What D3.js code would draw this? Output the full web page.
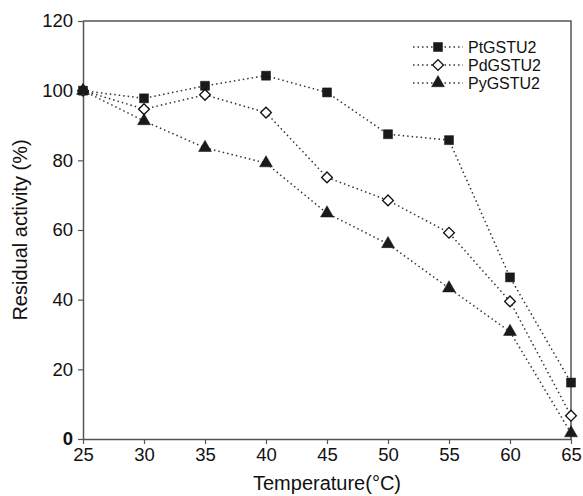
<!DOCTYPE html>
<html>
<head>
<meta charset="utf-8">
<script src="https://cdn.jsdelivr.net/npm/d3@7"></script>
<style>
  body { margin: 0; background: #fff; }
  text { font-family: "Liberation Sans", Arial, sans-serif; fill: #111; }
</style>
</head>
<body>
<div id="chart"></div>
<script>
// data
const temperatures = [25, 30, 35, 40, 45, 50, 55, 60, 65];
const ptGSTU2 = [100, 97.8, 101.4, 104.3, 99.5, 87.5, 85.8, 46.4, 16.2];
const pdGSTU2 = [100, 94.7, 98.8, 93.7, 75.1, 68.5, 59.2, 39.5, 6.7];
const pyGSTU2 = [100, 91.3, 83.6, 79.2, 64.8, 56.0, 43.3, 30.8, 1.7];
const seriesNames = ["PtGSTU2", "PdGSTU2", "PyGSTU2"];
const xTicks = [25, 30, 35, 40, 45, 50, 55, 60, 65];
const yTicks = [0, 20, 40, 60, 80, 100, 120];

const W = 583, H = 496;
const margin = { top: 21, right: 12, bottom: 57, left: 83 };
const width = W - margin.left - margin.right,
  height = H - margin.top - margin.bottom;

const x = d3.scaleLinear().domain([25, 65]).range([0, width]);
const y = d3.scaleLinear().domain([0, 120]).range([height, 0]);

const svg = d3.select("#chart").append("svg")
  .attr("width", W).attr("height", H);

const g = svg.append("g")
  .attr("transform", "translate(" + margin.left + "," + margin.top + ")");

const axisColor = "#555";

// frame (top and right)
g.append("path")
  .attr("d", `M0,0H${width}V${height}`)
  .attr("fill", "none")
  .attr("stroke", axisColor)
  .attr("stroke-width", 1.5);

// x axis
const xAxis = g.append("g")
  .attr("transform", "translate(0," + height + ")")
  .call(d3.axisBottom(x).tickValues(xTicks).tickSize(5).tickPadding(4).tickSizeOuter(0));

// y axis
const yAxis = g.append("g")
  .call(d3.axisLeft(y).tickValues(yTicks).tickSize(5).tickPadding(5).tickSizeOuter(0));

[xAxis, yAxis].forEach((a) => {
  a.select(".domain").attr("stroke", axisColor).attr("stroke-width", 1.5);
  a.selectAll(".tick line").attr("stroke", axisColor).attr("stroke-width", 1.2);
  a.selectAll(".tick text")
    .style("font-family", '"Liberation Sans", Arial, sans-serif')
    .style("font-size", "18.5px")
    .attr("fill", "#111");
});
yAxis.selectAll(".tick text").filter((d) => d === 0).style("font-weight", "bold");

// axis titles
g.append("text")
  .attr("x", width / 2)
  .attr("y", height + 51)
  .attr("text-anchor", "middle")
  .style("font-size", "20px")
  .text("Temperature(°C)");

g.append("text")
  .attr("transform", "rotate(-90)")
  .attr("x", -height / 2)
  .attr("y", -56)
  .attr("text-anchor", "middle")
  .style("font-size", "20px")
  .text("Residual activity (%)");

// diamond drawn as a square turned 45 degrees
const series = [
  { name: seriesNames[0], values: ptGSTU2, symbol: d3.symbolSquare, size: 81, rot: 0, fill: "#1a1a1a", sw: 0.5 },
  { name: seriesNames[1], values: pdGSTU2, symbol: d3.symbolSquare, size: 58, rot: 45, fill: "#fff", sw: 1.3 },
  { name: seriesNames[2], values: pyGSTU2, symbol: d3.symbolTriangle, size: 72, rot: 0, fill: "#1a1a1a", sw: 0.5 },
];

const line = d3.line().x((d) => x(d[0])).y((d) => y(d[1]));

series.forEach((s) => {
  const pts = temperatures.map((t, i) => [t, s.values[i]]);
  g.append("path")
    .datum(pts)
    .attr("d", line)
    .attr("fill", "none")
    .attr("stroke", "#333")
    .attr("stroke-width", 1.5)
    .attr("stroke-dasharray", "1.5,3");
});

series.forEach((s) => {
  const pts = temperatures.map((t, i) => [t, s.values[i]]);
  g.selectAll(null)
    .data(pts)
    .join("path")
    .attr("transform", (d) => `translate(${x(d[0])},${y(d[1])}) rotate(${s.rot})`)
    .attr("d", d3.symbol().type(s.symbol).size(s.size))
    .attr("fill", s.fill)
    .attr("stroke", "#111")
    .attr("stroke-width", s.sw);
});

// legend
const legend = svg.append("g").attr("transform", "translate(413,47)");
series.forEach((s, i) => {
  const row = legend.append("g").attr("transform", `translate(0,${i * 18})`);
  row.append("line")
    .attr("x1", 0).attr("x2", 50)
    .attr("stroke", "#333").attr("stroke-width", 1.5)
    .attr("stroke-dasharray", "1.5,3");
  row.append("path")
    .attr("transform", `translate(25,0) rotate(${s.rot})`)
    .attr("d", d3.symbol().type(s.symbol).size(s.size))
    .attr("fill", s.fill)
    .attr("stroke", "#111")
    .attr("stroke-width", s.sw);
  row.append("text")
    .attr("x", 55)
    .attr("dy", "0.35em")
    .style("font-size", "16px")
    .text(s.name);
});
</script>
</body>
</html>
